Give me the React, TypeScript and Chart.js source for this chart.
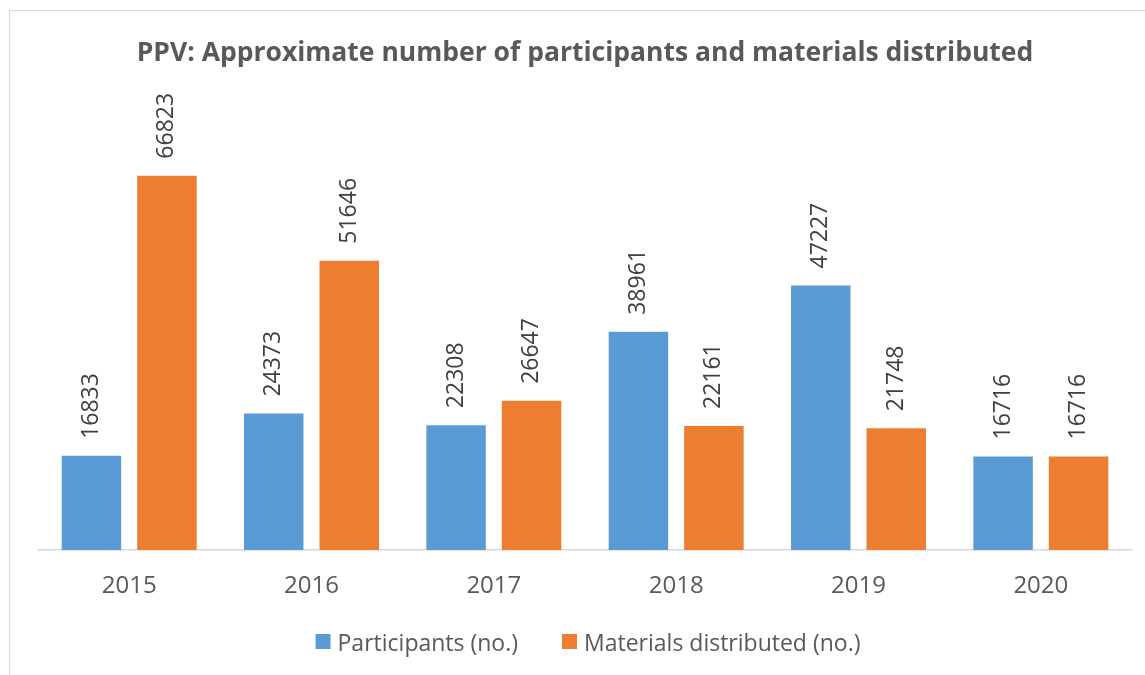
import React, { useEffect, useRef } from "react";
import { Chart, registerables } from "chart.js";

Chart.register(...registerables);

const years = ["2015", "2016", "2017", "2018", "2019", "2020"];
const participants = [16833, 24373, 22308, 38961, 47227, 16716];
const materials = [66823, 51646, 26647, 22161, 21748, 16716];
const titleText = "PPV: Approximate number of participants and materials distributed";
const seriesNames = ["Participants (no.)", "Materials distributed (no.)"];
const seriesColors = ["#5B9BD5", "#ED7D31"];

const FONT = "'Open Sans', 'DejaVu Sans', sans-serif";

const dataLabels = {
  id: "dataLabels",
  afterDatasetsDraw(chart: any) {
    const ctx = chart.ctx;
    ctx.save();
    ctx.font = `23px ${FONT}`;
    ctx.fillStyle = "#404040";
    chart.data.datasets.forEach((ds: any, i: number) => {
      const meta = chart.getDatasetMeta(i);
      meta.data.forEach((el: any, j: number) => {
        ctx.save();
        ctx.translate(el.x, el.y - 17);
        ctx.rotate(-Math.PI / 2);
        ctx.textAlign = "left";
        ctx.textBaseline = "middle";
        ctx.fillText(String(ds.data[j]), 0, 0);
        ctx.restore();
      });
    });
    ctx.restore();
  },
};

const bottomLegend = {
  id: "bottomLegend",
  afterDraw(chart: any) {
    const ctx = chart.ctx;
    ctx.save();
    ctx.font = `23px ${FONT}`;
    const box = 15;
    const gap = 7;
    const itemGap = 44;
    const items = chart.data.datasets.map((ds: any) => ({
      text: ds.label,
      color: ds.backgroundColor,
      w: ctx.measureText(ds.label).width,
    }));
    const total = items.reduce((s: number, it: any) => s + box + gap + it.w, 0) + itemGap * (items.length - 1);
    const cx = (chart.chartArea.left + chart.chartArea.right) / 2 + 3;
    let x = cx - total / 2;
    const baseY = 651;
    items.forEach((it: any) => {
      ctx.fillStyle = it.color;
      ctx.fillRect(x, 634, box, box);
      x += box + gap;
      ctx.fillStyle = "#595959";
      ctx.textAlign = "left";
      ctx.textBaseline = "alphabetic";
      ctx.fillText(it.text, x, baseY);
      x += it.w + itemGap;
    });
    ctx.restore();
  },
};

export default function App() {
  const ref = useRef<HTMLCanvasElement>(null);
  useEffect(() => {
    if (!ref.current) return;
    const chart = new Chart(ref.current, {
      type: "bar",
      data: {
        labels: years,
        datasets: [
          { label: seriesNames[0], data: participants, backgroundColor: seriesColors[0] },
          { label: seriesNames[1], data: materials, backgroundColor: seriesColors[1] },
        ],
      },
      options: {
        responsive: false,
        animation: false,
        layout: { padding: { left: 38, right: 13, top: 0, bottom: 52 } },
        datasets: { bar: { categoryPercentage: 0.828, barPercentage: 0.788 } } as any,
        scales: {
          x: {
            grid: { display: false, drawTicks: false },
            border: { display: true, color: "#D9D9D9", width: 1.5 },
            ticks: { color: "#595959", font: { family: FONT, size: 24 }, padding: 22 },
          },
          y: { display: false, min: 0, max: 80000 },
        },
        plugins: {
          title: {
            display: true,
            text: titleText,
            color: "#595959",
            font: { family: FONT, size: 26.5, weight: "bold" },
            padding: { top: 38, bottom: 32 },
          },
          legend: { display: false },
          tooltip: { enabled: false },
        },
      },
      plugins: [dataLabels, bottomLegend],
    });
    return () => chart.destroy();
  }, []);
  return (
    <div style={{ position: "fixed", left: 0, top: 0, width: 1145, height: 675, overflow: "hidden", background: "#fff" }}>
      <div style={{ position: "absolute", left: 9, top: 10, width: 1300, height: 800, borderLeft: "1.5px solid #D9D9D9", borderTop: "1.5px solid #D9D9D9" }} />
      <canvas ref={ref} width={1145} height={675} style={{ position: "absolute", left: 0, top: 0 }} />
    </div>
  );
}
